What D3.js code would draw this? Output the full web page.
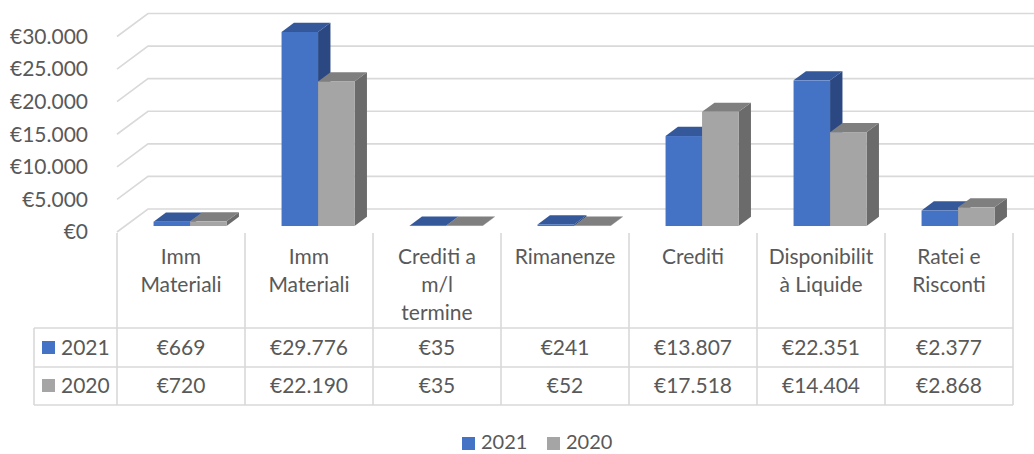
<!DOCTYPE html>
<html>
<head>
<meta charset="utf-8">
<script src="https://cdn.jsdelivr.net/npm/d3@7"></script>
<style>
  body { margin: 0; background: #fff; }
  text { font-family: Lato, "Open Sans", sans-serif; fill: #595959; }
</style>
</head>
<body>
<svg id="chart" width="1034" height="454"></svg>
<script>
/* data */
var categories = ["Imm Materiali", "Imm Materiali", "Crediti a m/l termine", "Rimanenze", "Crediti", "Disponibilità Liquide", "Ratei e Risconti"];
var categoryLines = [["Imm", "Materiali"], ["Imm", "Materiali"], ["Crediti a", "m/l", "termine"], ["Rimanenze"], ["Crediti"], ["Disponibilit", "à Liquide"], ["Ratei e", "Risconti"]];
var seriesNames = ["2021", "2020"];
var values2021 = [669, 29776, 35, 241, 13807, 22351, 2377];
var values2020 = [720, 22190, 35, 52, 17518, 14404, 2868];
var yTicks = [0, 5000, 10000, 15000, 20000, 25000, 30000];

var colors = {
  "2021": { front: "#4472c4", top: "#34589a", side: "#2b4883" },
  "2020": { front: "#a5a5a5", top: "#7f7f7f", side: "#6b6b6b" }
};

var svg = d3.select("#chart");
var locale = d3.formatLocale({ decimal: ",", thousands: ".", grouping: [3], currency: ["€", ""] });
var euro = locale.format("$,d");

// oblique 3d: full floor depth
var depthX = 31, depthY = 23;
var zFront = 0.26, zBack = 0.66;   // bar position in the depth

var x = d3.scaleBand().domain(d3.range(categories.length)).range([117, 1013]);
var xs = d3.scaleBand().domain(seriesNames).range([0, 73]);
var y = d3.scaleLinear().domain([0, 30000]).range([232, 36.5]);

/* gridlines: side wall diagonal + back wall */
var grid = svg.append("g");
yTicks.forEach(function(t) {
  grid.append("path")
    .attr("d", "M117," + y(t) + "L" + (117 + depthX) + "," + (y(t) - depthY) + "L1034," + (y(t) - depthY))
    .attr("fill", "none").attr("stroke", "#d9d9d9").attr("stroke-width", 1.6);
});

/* y labels */
svg.append("g").selectAll("text").data(yTicks).enter().append("text")
  .attr("x", 88).attr("y", function(d) { return y(d); })
  .attr("dy", "0.35em").attr("text-anchor", "end")
  .style("font-size", "21px")
  .text(function(d) { return euro(d); });

/* bars */
var bdx = depthX * (zBack - zFront), bdy = depthY * (zBack - zFront);
var fdx = depthX * zFront + 3, fdy = depthY * zFront;
var bars = svg.append("g");
categories.forEach(function(c, i) {
  [values2021[i], values2020[i]].forEach(function(v, k) {
    var s = seriesNames[k], col = colors[s];
    var x0 = x(i) + x.bandwidth() / 2 - 36.5 + fdx - 2 + xs(s);
    var w = xs.bandwidth();
    var yb = y(0) - fdy, yt = y(v) - fdy;
    var g = bars.append("g");
    g.append("path")
      .attr("d", "M" + (x0 + w) + "," + yt + "L" + (x0 + w + bdx) + "," + (yt - bdy) + "L" + (x0 + w + bdx) + "," + (yb - bdy) + "L" + (x0 + w) + "," + yb + "Z")
      .attr("fill", col.side);
    g.append("path")
      .attr("d", "M" + x0 + "," + yt + "L" + (x0 + w) + "," + yt + "L" + (x0 + w + bdx) + "," + (yt - bdy) + "L" + (x0 + bdx) + "," + (yt - bdy) + "Z")
      .attr("fill", col.top);
    g.append("rect")
      .attr("x", x0).attr("y", yt).attr("width", w).attr("height", Math.max(0, yb - yt))
      .attr("fill", col.front);
  });
});

/* data table */
var table = svg.append("g");
var lineC = "#d9d9d9";
[328, 367, 405].forEach(function(yy) {
  table.append("line").attr("x1", 34).attr("x2", 1013).attr("y1", yy).attr("y2", yy)
    .attr("stroke", lineC).attr("stroke-width", 1.6);
});
table.append("line").attr("x1", 34).attr("x2", 34).attr("y1", 328).attr("y2", 405)
  .attr("stroke", lineC).attr("stroke-width", 1.6);
d3.range(categories.length + 1).forEach(function(i) {
  var xx = i < categories.length ? x(i) : x.range()[1];
  table.append("line").attr("x1", xx).attr("x2", xx).attr("y1", 233).attr("y2", 405)
    .attr("stroke", lineC).attr("stroke-width", 1.6);
});

categoryLines.forEach(function(lines, i) {
  var t = table.append("text")
    .attr("x", x(i) + x.bandwidth() / 2).attr("y", 264)
    .attr("text-anchor", "middle").style("font-size", "21px");
  lines.forEach(function(l, j) {
    t.append("tspan").attr("x", x(i) + x.bandwidth() / 2).attr("y", 264 + j * 28).text(l);
  });
});

[values2021, values2020].forEach(function(vals, k) {
  var base = k === 0 ? 355 : 393;
  var s = seriesNames[k];
  table.append("rect").attr("x", 42).attr("y", base - 14).attr("width", 13).attr("height", 13)
    .attr("fill", colors[s].front);
  table.append("text").attr("x", 61).attr("y", base).style("font-size", "21px").text(s);
  vals.forEach(function(v, i) {
    table.append("text").attr("x", x(i) + x.bandwidth() / 2).attr("y", base)
      .attr("text-anchor", "middle").style("font-size", "21px").text(euro(v));
  });
});

/* legend */
var legend = svg.append("g");
[{ s: "2021", x: 462 }, { s: "2020", x: 547 }].forEach(function(d) {
  legend.append("rect").attr("x", d.x).attr("y", 437).attr("width", 13).attr("height", 13)
    .attr("fill", colors[d.s].front);
  legend.append("text").attr("x", d.x + 19).attr("y", 449).style("font-size", "20px").text(d.s);
});
</script>
</body>
</html>
